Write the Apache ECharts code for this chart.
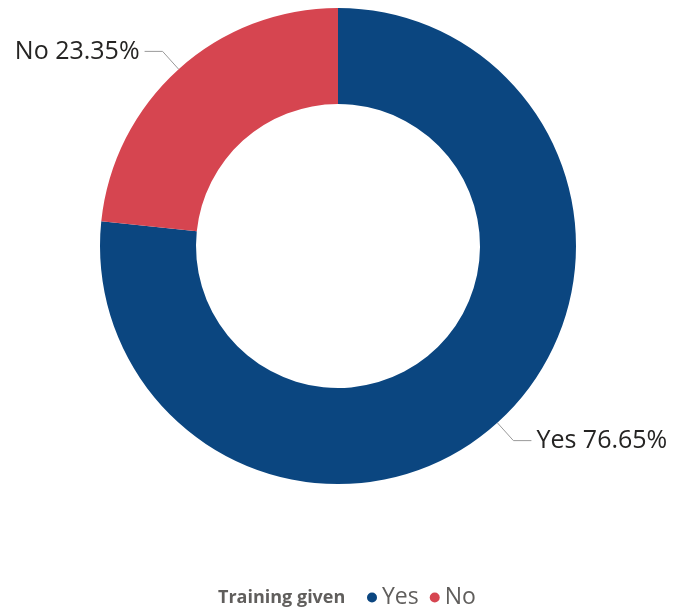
<!DOCTYPE html>
<html><head><meta charset="utf-8">
<script src="https://cdn.jsdelivr.net/npm/echarts@6/dist/echarts.min.js"></script>
<style>html,body{margin:0;padding:0;background:#fff}#c{width:683px;height:614px}</style>
</head><body><div id="c"></div>
<script>
const categories = ['Yes', 'No'];
const values = [76.65, 23.35];
const colors = ['#0B4680', '#D64550'];
const legendTitle = 'Training given';

const chart = echarts.init(document.getElementById('c'), null, {renderer: 'canvas'});
chart.setOption({
  animation: false,
  color: colors,
  title: {
    text: legendTitle,
    left: 218, top: 589,
    padding: 0,
    textStyle: {fontFamily: 'Open Sans', fontSize: 18, fontWeight: 'bold', color: '#605E5C'}
  },
  legend: {
    left: 367, top: 586,
    padding: 0,
    icon: 'circle', itemWidth: 10, itemHeight: 10, itemGap: 11,
    textStyle: {fontFamily: 'Open Sans', fontSize: 23, color: '#605E5C'},
    data: categories
  },
  series: [{
    type: 'pie',
    center: [338, 246],
    radius: [142, 238],
    startAngle: 90,
    clockwise: true,
    avoidLabelOverlap: false,
    label: {
      formatter: '{b} {d}%',
      fontFamily: 'Open Sans', fontSize: 25, color: '#252423',
      distanceToLabelLine: 5
    },
    labelLine: {length: 24, length2: 18, lineStyle: {color: '#999', width: 1}},
    itemStyle: {borderWidth: 0},
    emphasis: {disabled: true},
    data: categories.map((c, i) => ({name: c, value: values[i]}))
  }]
});
</script></body></html>
